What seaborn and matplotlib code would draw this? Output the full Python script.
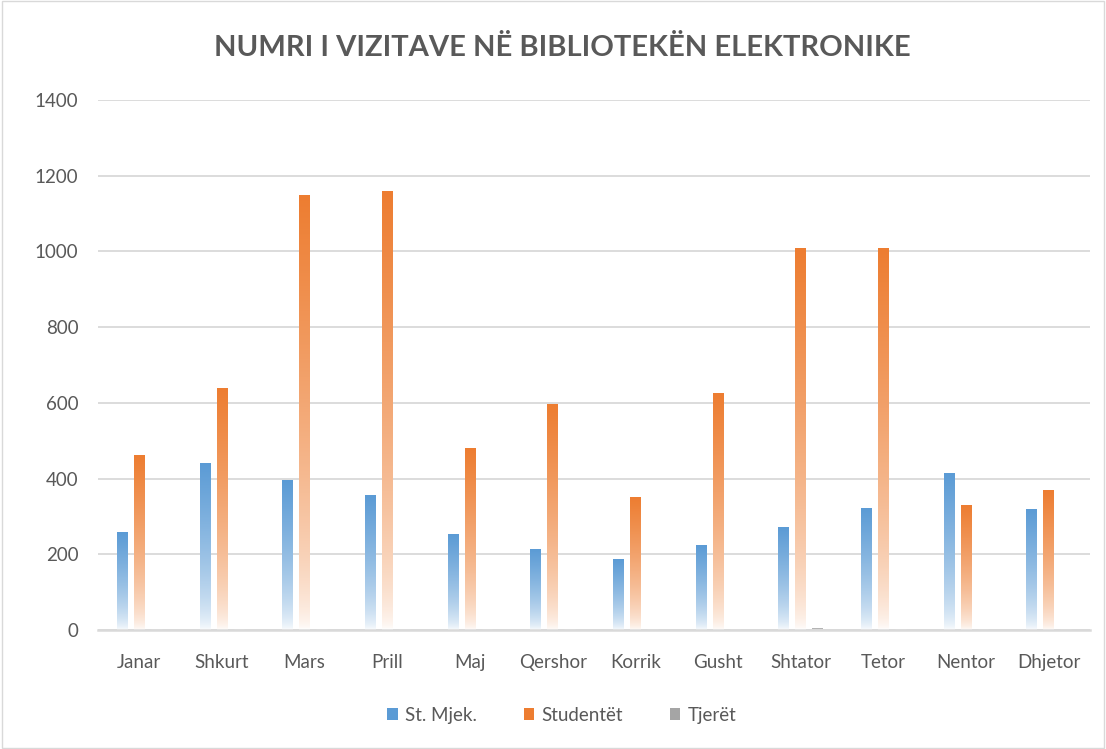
# Visits to the electronic library - grouped bars with gradient fill
import numpy as np
import pandas as pd
import matplotlib
matplotlib.use("Agg")
import matplotlib.pyplot as plt
import seaborn as sns
from matplotlib.colors import to_rgb
from matplotlib.patches import Rectangle, Patch

# data
months = ["Janar", "Shkurt", "Mars", "Prill", "Maj", "Qershor",
          "Korrik", "Gusht", "Shtator", "Tetor", "Nentor", "Dhjetor"]
st_mjek = [257, 440, 396, 356, 251, 213, 187, 224, 271, 321, 413, 319]
studentet = [460, 637, 1148, 1158, 480, 596, 349, 625, 1009, 1009, 328, 369]
tjeret = [0, 0, 0, 0, 0, 0, 0, 0, 5, 0, 0, 0]
series = ["St. Mjek.", "Studentët", "Tjerët"]
colors = ["#5B9BD5", "#ED7D31", "#A5A5A5"]

df = pd.DataFrame({
    "muaji": months * 3,
    "seria": np.repeat(series, len(months)),
    "vizita": st_mjek + studentet + tjeret,
})

sns.set_theme(style="white")
plt.rcParams["font.family"] = ["Lato", "DejaVu Sans"]
text_col = "#595959"
grid_col = "#D9D9D9"

fig = plt.figure(figsize=(11.06, 7.49), dpi=100)
ax = fig.add_axes([0.0886, 0.1589, 0.8969, 0.7076])

sns.barplot(data=df, x="muaji", y="vizita", hue="seria", palette=colors,
            saturation=1, width=0.615, gap=0.37, ax=ax, legend=False,
            errorbar=None)

# replace flat fill with a vertical gradient (white at bottom -> colour at top)
t = np.linspace(0, 1, 256)
frac = t ** 0.6
for patch in list(ax.patches):
    h = patch.get_height()
    if h <= 0:
        continue
    x = patch.get_x()
    w = patch.get_width()
    c = np.array(to_rgb(patch.get_facecolor()))
    grad = (1 - frac)[:, None] * np.ones(3) + frac[:, None] * c
    ax.imshow(grad[:, None, :], origin="lower", extent=(x, x + w, 0, h),
              aspect="auto", interpolation="bilinear", zorder=2)
    patch.set_visible(False)

ax.set_xlim(-0.5, len(months) - 0.5)
ax.set_ylim(0, 1400)
ax.set_yticks(range(0, 1401, 200))
ax.yaxis.grid(True, color=grid_col, lw=1.3)
ax.set_axisbelow(True)
for s in ["left", "right", "top"]:
    ax.spines[s].set_visible(False)
ax.spines["bottom"].set_color(grid_col)
ax.spines["bottom"].set_linewidth(1.8)
ax.spines["bottom"].set_zorder(4)
ax.tick_params(axis="both", length=0, labelsize=13.5, colors=text_col)
ax.tick_params(axis="y", pad=14)
ax.tick_params(axis="x", pad=17)
ax.set_xlabel("")
ax.set_ylabel("")

fig.text(0.508, 0.936, "NUMRI I VIZITAVE NË BIBLIOTEKËN ELEKTRONIKE",
         ha="center", va="center", fontsize=21, color=text_col, fontweight="bold")

handles = [Patch(facecolor=c, edgecolor="none") for c in colors]
fig.legend(handles, series, loc="center", bbox_to_anchor=(0.508, 0.045), ncol=3,
           frameon=False, fontsize=13.5, labelcolor=text_col,
           handlelength=0.55, handleheight=0.6, handletextpad=0.4, columnspacing=2.5)

fig.patches.append(Rectangle((0.002, 0.002), 0.996, 0.996, transform=fig.transFigure,
                             fill=False, edgecolor=grid_col, lw=1))

fig.savefig("out.png", dpi=100)
